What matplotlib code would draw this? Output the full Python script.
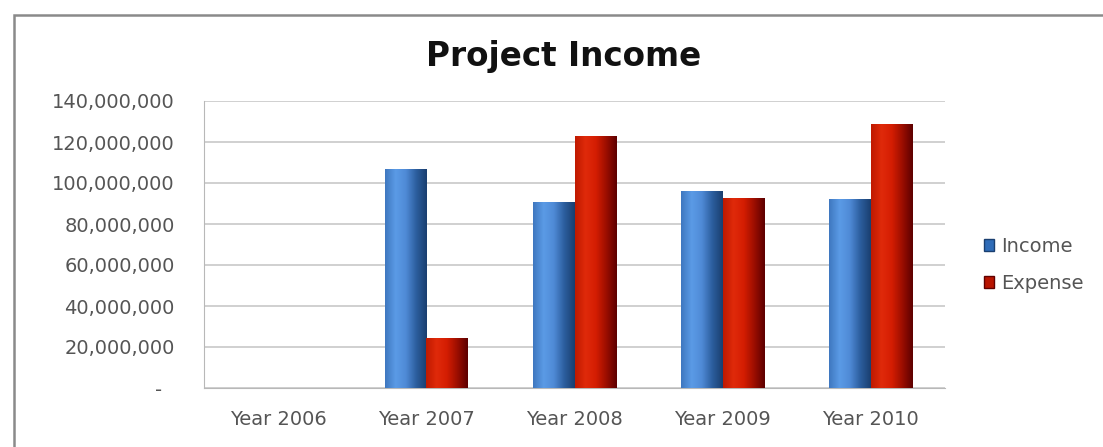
import matplotlib
matplotlib.use("Agg")
import matplotlib.pyplot as plt
import numpy as np
from matplotlib.patches import Rectangle
from matplotlib.colors import LinearSegmentedColormap

categories = ["Year 2006", "Year 2007", "Year 2008", "Year 2009", "Year 2010"]
income = [0, 107_000_000, 90_500_000, 96_300_000, 92_200_000]
expense = [0, 24_400_000, 122_700_000, 92_900_000, 128_800_000]
yticks = [0, 20_000_000, 40_000_000, 60_000_000, 80_000_000, 100_000_000, 120_000_000, 140_000_000]
ytick_labels = ["-  ", "20,000,000", "40,000,000", "60,000,000", "80,000,000",
                "100,000,000", "120,000,000", "140,000,000"]

plt.rcParams['font.family'] = ['DejaVu Sans']

fig = plt.figure(figsize=(11.03, 4.47), dpi=100)
fig.patches.append(Rectangle((13.5/1103, -0.05), 1.1, 1 - 14.5/447 + 0.05,
                             transform=fig.transFigure, fill=False,
                             edgecolor="#8a8a8a", linewidth=1.8))
ax = fig.add_axes([204/1103, 1-388/447, (945-204)/1103, (388-101)/447])

x = np.arange(len(categories))
w = 0.28
blue_cmap = LinearSegmentedColormap.from_list("b", ["#3f78c0", "#5b9be6", "#4f8ad6", "#2c5e9e", "#1a3f70"])
red_cmap = LinearSegmentedColormap.from_list("r", ["#c01a00", "#e02a0a", "#d41d02", "#9c0e00", "#5e0000"])

b1 = ax.bar(x - w/2, income, w, color="#4f8ad6", label="Income", zorder=3)
b2 = ax.bar(x + w/2, expense, w, color="#d41d02", label="Expense", zorder=3)

grad = np.linspace(0, 1, 64).reshape(1, -1)
for bars, cmap in ((b1, blue_cmap), (b2, red_cmap)):
    for r in bars:
        h = r.get_height()
        if h <= 0:
            continue
        x0 = r.get_x()
        im = ax.imshow(grad, cmap=cmap, aspect="auto",
                       extent=[x0, x0 + r.get_width(), 0, h], zorder=4)
        im.set_clip_path(r)

ax.set_xlim(-0.5, len(categories) - 0.5)
ax.set_ylim(0, 140_000_000)
ax.set_yticks(yticks)
ax.set_yticklabels(ytick_labels)
ax.set_xticks(x)
ax.set_xticklabels(categories)
ax.tick_params(axis="both", length=0, labelsize=14, colors="#555555")
ax.tick_params(axis="y", pad=21)
ax.tick_params(axis="x", pad=16)
ax.yaxis.grid(True, color="#c8c8c8", linewidth=1.2, zorder=0)
ax.set_axisbelow(True)
for s in ("top", "right"):
    ax.spines[s].set_visible(False)
ax.spines["left"].set_color("#b8b8b8")
ax.spines["bottom"].set_color("#b8b8b8")

fig.text(564/1103, 1-66/447, "Project Income", ha="center", va="baseline",
         fontsize=23.5, fontweight="bold", color="#111111")

handles = [Rectangle((0, 0), 1, 1, facecolor="#2f6cb8", edgecolor="#1a3f70"),
           Rectangle((0, 0), 1, 1, facecolor="#b81400", edgecolor="#600000")]
leg = fig.legend(handles, ["Income", "Expense"], loc="center left",
                 bbox_to_anchor=(966/1103, 1-265/447), frameon=False,
                 fontsize=14, handlelength=0.55, handleheight=0.55,
                 handletextpad=0.35, labelspacing=0.95)
for t in leg.get_texts():
    t.set_color("#555555")

fig.savefig("out.png", dpi=100)
